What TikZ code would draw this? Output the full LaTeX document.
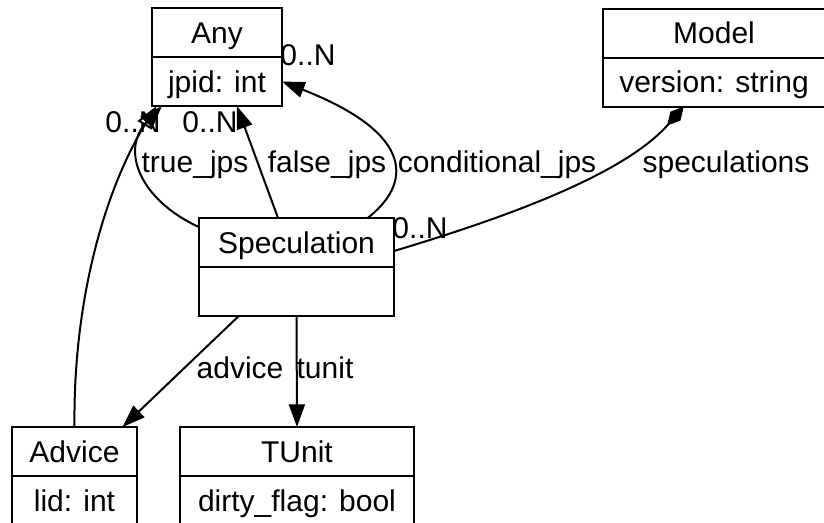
\documentclass[tikz,border=0pt]{standalone}
\usepackage{fontspec}
\setmainfont{Liberation Sans}
\usetikzlibrary{positioning,arrows.meta}
\newcommand{\umlfont}{\fontsize{22.5}{26}\selectfont}
\tikzset{every picture/.style={line width=1.5pt}}
\tikzset{
  umlpart/.style={draw, rectangle, inner sep=0pt, outer sep=0pt, minimum height=36.75pt, text height=16pt, text depth=0pt, font=\umlfont},
  umllabel/.style={inner sep=0pt, anchor=base, font=\umlfont},
  assoc/.style={-{Triangle[length=17pt,width=12pt]}},
  inherit/.style={-{Triangle[open,length=17pt,width=12pt,fill=white]}},
  compose/.style={-{Diamond[length=19pt,width=10pt]}}
}

\begin{document}
\begin{tikzpicture}[x=0.75pt,y=0.75pt,yscale=-1,xscale=1]
        \useasboundingbox (0,0) rectangle (824,522);
        \clip (0,0) rectangle (824,522);

        % Classes
        \node [umlpart, minimum width=97.5pt] (anyh) at (217,32.5) {Any};
        \node [umlpart, minimum width=97.5pt, below=0pt of anyh] (anya) {jpid: int};
        \node [umlpart, minimum width=166.5pt] (modelh) at (714,33) {Model};
        \node [umlpart, minimum width=166.5pt, below=0pt of modelh] (modela) {version: string};
        \node [umlpart, minimum width=146.25pt] (spech) at (296.5,242.5) {Speculation};
        \node [umlpart, minimum width=146.25pt, below=0pt of spech] (speca) {};
        \node [umlpart, minimum width=93.75pt] (advh) at (74.5,451.5) {Advice};
        \node [umlpart, minimum width=93.75pt, below=0pt of advh] (adva) {lid: int};
        \node [umlpart, minimum width=175.5pt] (tuh) at (297,451.5) {TUnit};
        \node [umlpart, minimum width=175.5pt, below=0pt of tuh] (tua) {dirty\_flag: bool};

        % Edge labels
        \node [umllabel] (truelbl) at (195,172) {true\_jps};
        \node [umllabel] (falselbl) at (327,172) {false\_jps};
        \node [umllabel] (condlbl) at (497,172) {conditional\_jps};
        \node [umllabel] (speclbl) at (726,172) {speculations};
        \node [umllabel] (truemul) at (133,132) {0..N};
        \node [umllabel] (falsemul) at (210,132) {0..N};
        \node [umllabel] (condmul) at (308,65) {0..N};
        \node [umllabel] (specmul) at (420,238) {0..N};
        \node [umllabel] (advlbl) at (240,378) {advice};
        \node [umllabel] (tunitlbl) at (325,378) {tunit};

        % Edges
        \draw [inherit] (advh.north) .. controls (73,300) and (105,190) .. (anya.202);
        \draw [assoc] (spech.171) .. controls (140,200) and (120,150) .. (anya.204);
        \draw [assoc] (spech.127) -- (anya.309);
        \draw [assoc] (spech.19) .. controls (410,185) and (418,135) .. (anya.east);
        \draw [compose] (spech.355) .. controls (480,225) and (620,180) .. (modela.219);
        \draw [assoc] (speca.203) -- (advh.27);
        \draw [assoc] (speca.south) -- (tuh.north);

\end{tikzpicture}
\end{document}
